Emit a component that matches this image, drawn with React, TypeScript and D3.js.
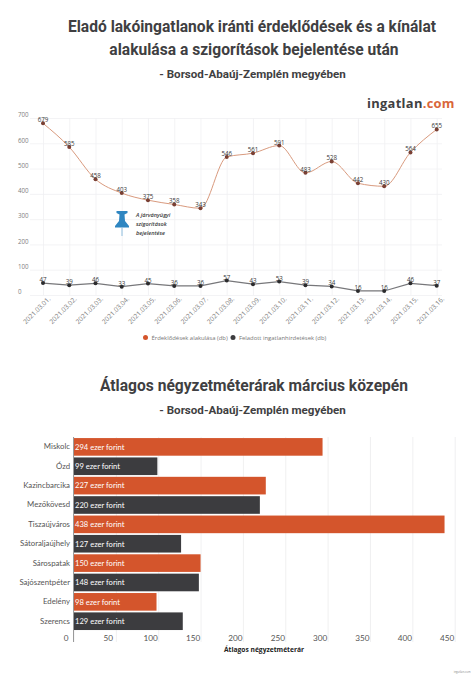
import React, { useEffect, useRef } from "react";
import * as d3 from "d3";

const days = [
  "2021.03.01.", "2021.03.02.", "2021.03.03.", "2021.03.04.", "2021.03.05.", "2021.03.06.", "2021.03.07.", "2021.03.08.",
  "2021.03.09.", "2021.03.10.", "2021.03.11.", "2021.03.12.", "2021.03.13.", "2021.03.14.", "2021.03.15.", "2021.03.16.",
];
const interest = [679, 585, 458, 403, 375, 358, 343, 546, 561, 591, 483, 528, 442, 430, 564, 655];
const listings = [47, 39, 46, 33, 45, 36, 36, 57, 43, 53, 39, 34, 16, 16, 46, 37];
const yTicks = [0, 100, 200, 300, 400, 500, 600, 700];

const towns = [
  "Miskolc", "Ózd", "Kazincbarcika", "Mezőkövesd", "Tiszaújváros",
  "Sátoraljaújhely", "Sárospatak", "Sajószentpéter", "Edelény", "Szerencs",
];
const prices = [294, 99, 227, 220, 438, 127, 150, 148, 98, 129];
const xTicks = [0, 50, 100, 150, 200, 250, 300, 350, 400, 450];

const ORANGE = "#d4552c";
const DARK = "#3c3c3f";
const HEAD = "#3f3f42";

export default function App() {
  const ref = useRef<SVGSVGElement>(null);

  useEffect(() => {
    const svg = d3.select(ref.current);
    svg.selectAll("*").remove();

    const heading = (text: string, x: number, y: number, size: number) =>
      svg.append("text").attr("x", x).attr("y", y).attr("text-anchor", "middle")
        .attr("font-family", "Roboto").attr("font-weight", 700).attr("font-size", size)
        .attr("fill", HEAD).text(text);

    heading("Eladó lakóingatlanok iránti érdeklődések és a kínálat", 252, 32, 15.6);
    heading("alakulása a szigorítások bejelentése után", 254, 55, 15.6);
    heading("- Borsod-Abaúj-Zemplén megyében", 252.5, 78, 11.6);
    heading("Átlagos négyzetméterárak március közepén", 254, 391, 15.6);
    heading("- Borsod-Abaúj-Zemplén megyében", 252.5, 414, 11.6);

    // logo
    const logo = svg.append("text").attr("x", 367).attr("y", 107.5)
      .attr("font-family", "Open Sans").attr("font-weight", 700).attr("font-size", 12.9)
      .attr("letter-spacing", 0.3).attr("fill", HEAD);
    logo.append("tspan").text("ingatlan");
    logo.append("tspan").attr("fill", "#d9663a").text(".com");

    // line chart
    const x = d3.scalePoint(days, [43, 436.7]);
    const y = d3.scaleLinear([0, 700], [295, 118]);

    const gx = svg.append("g").attr("transform", "translate(0,295)")
      .call(d3.axisBottom(x).tickSize(-177).tickSizeOuter(0));
    gx.select(".domain").remove();
    gx.selectAll(".tick line").attr("stroke", "#f0f0f2").attr("stroke-width", 0.8);
    gx.selectAll(".tick text")
      .attr("font-family", "Open Sans").attr("font-size", 6.6).attr("fill", "#7a7a7a")
      .attr("text-anchor", "end").attr("transform", "translate(2,-1) rotate(-45)");

    const gy = svg.append("g").attr("transform", "translate(30,0)")
      .call(d3.axisLeft(y).tickValues(yTicks).tickSize(-412));
    gy.select(".domain").remove();
    gy.selectAll(".tick line").attr("stroke", "#f0f0f2").attr("stroke-width", 0.8);
    gy.selectAll(".tick text")
      .attr("font-family", "Open Sans").attr("font-size", 6.2).attr("fill", "#808080")
      .attr("text-anchor", "start").attr("x", -12).attr("dy", "-0.2em");

    const drawSeries = (values: number[], stroke: string, strokeWidth: number, dot: string, curve: d3.CurveFactory) => {
      const line = d3.line<number>().x((_, i) => x(days[i])!).y((d) => y(d)).curve(curve);
      svg.append("path").attr("d", line(values)).attr("fill", "none")
        .attr("stroke", stroke).attr("stroke-width", strokeWidth);
      values.forEach((v, i) => {
        svg.append("circle").attr("cx", x(days[i])!).attr("cy", y(v)).attr("r", 2).attr("fill", dot);
        svg.append("text").attr("x", x(days[i])!).attr("y", y(v) - 1).attr("text-anchor", "middle")
          .attr("font-family", "Open Sans").attr("font-size", 6.2).attr("fill", "#3a3a3a").text(v);
      });
    };
    drawSeries(interest, "#d99a7e", 1, "#7a4034", d3.curveMonotoneX);
    drawSeries(listings, "#77777a", 1.2, "#2b2b2d", d3.curveLinear);

    // pin
    const pin = svg.append("g").attr("transform", "translate(122,0)");
    pin.append("path").attr("fill", "#2f86c1")
      .attr("d", "M-5.5,211 L5.5,211 L5.5,213 L2.5,214.5 L3,221 L7,226 L7,227.5 L-7,227.5 L-7,226 L-3,221 L-2.5,214.5 L-5.5,213 Z");
    pin.append("line").attr("y1", 227.5).attr("y2", 236).attr("stroke", "#8fbedd").attr("stroke-width", 1);
    ["A járványügyi", "szigorítások", "bejelentése"].forEach((t, i) => {
      svg.append("text").attr("x", 136).attr("y", 217 + i * 8.8)
        .attr("font-family", "Open Sans").attr("font-style", "italic").attr("font-weight", 600)
        .attr("font-size", 5.6).attr("fill", "#3a3a3a").text(t);
    });

    // legend
    const legend = [
      { label: "Érdeklődések alakulása (db)", color: ORANGE, cx: 145.5 },
      { label: "Feladott ingatlanhirdetések (db)", color: DARK, cx: 233 },
    ];
    legend.forEach((l) => {
      svg.append("circle").attr("cx", l.cx).attr("cy", 337.5).attr("r", 2.5).attr("fill", l.color);
      svg.append("text").attr("x", l.cx + 6).attr("y", 339.7).attr("font-family", "Open Sans")
        .attr("font-size", 5.9).attr("fill", "#777").text(l.label);
    });

    // bar chart
    const bx = d3.scaleLinear([0, 450], [73.5, 454.7]);
    const by = d3.scaleBand(towns, [437.2, 630.9]).paddingInner(0.09).paddingOuter(0.045);

    const gb = svg.append("g").attr("transform", "translate(0,642)")
      .call(d3.axisBottom(bx).tickValues(xTicks).tickSize(-205).tickSizeOuter(0));
    gb.select(".domain").remove();
    gb.selectAll(".tick line").attr("stroke", "#ececee").attr("stroke-width", 0.8);
    gb.selectAll(".tick text")
      .attr("font-family", "Lato").attr("font-size", 8.2).attr("fill", "#555")
      .attr("x", -8).attr("y", -1).attr("dy", 0);

    svg.selectAll("rect.bar").data(prices).join("rect").attr("class", "bar")
      .attr("x", bx(0))
      .attr("y", (_, i) => by(towns[i])!)
      .attr("width", (d) => bx(d) - bx(0))
      .attr("height", by.bandwidth())
      .attr("fill", (_, i) => (i % 2 === 0 ? ORANGE : DARK));

    svg.selectAll("text.val").data(prices).join("text").attr("class", "val")
      .attr("x", bx(0) + 1.5)
      .attr("y", (_, i) => by(towns[i])! + by.bandwidth() / 2 + 2.8)
      .attr("font-family", "Lato").attr("font-size", 7.6).attr("fill", "#fff")
      .text((d) => `${d} ezer forint`);

    const gt = svg.append("g").attr("transform", "translate(73.5,0)").call(d3.axisLeft(by).tickSize(0));
    gt.select(".domain").attr("stroke", "#9a9a9a");
    gt.select(".domain").attr("d", "M0,437V642");
    gt.selectAll(".tick text")
      .attr("font-family", "Lato").attr("font-size", 7.8).attr("fill", "#555").attr("x", -3.5);

    svg.append("text").attr("x", 264).attr("y", 651.5).attr("text-anchor", "middle")
      .attr("font-family", "Open Sans").attr("font-weight", 700).attr("font-size", 6.7)
      .attr("fill", "#222").text("Átlagos négyzetméterár");

    svg.append("text").attr("x", 470.5).attr("y", 673).attr("text-anchor", "end")
      .attr("font-family", "Open Sans").attr("font-size", 2.8).attr("fill", "#888").text("ingatlan.com");
  }, []);

  return (
    <svg
      ref={ref}
      width={474}
      height={676}
      viewBox="0 0 474 676"
      style={{ position: "absolute", left: 0, top: 0, background: "#fff" }}
    />
  );
}
